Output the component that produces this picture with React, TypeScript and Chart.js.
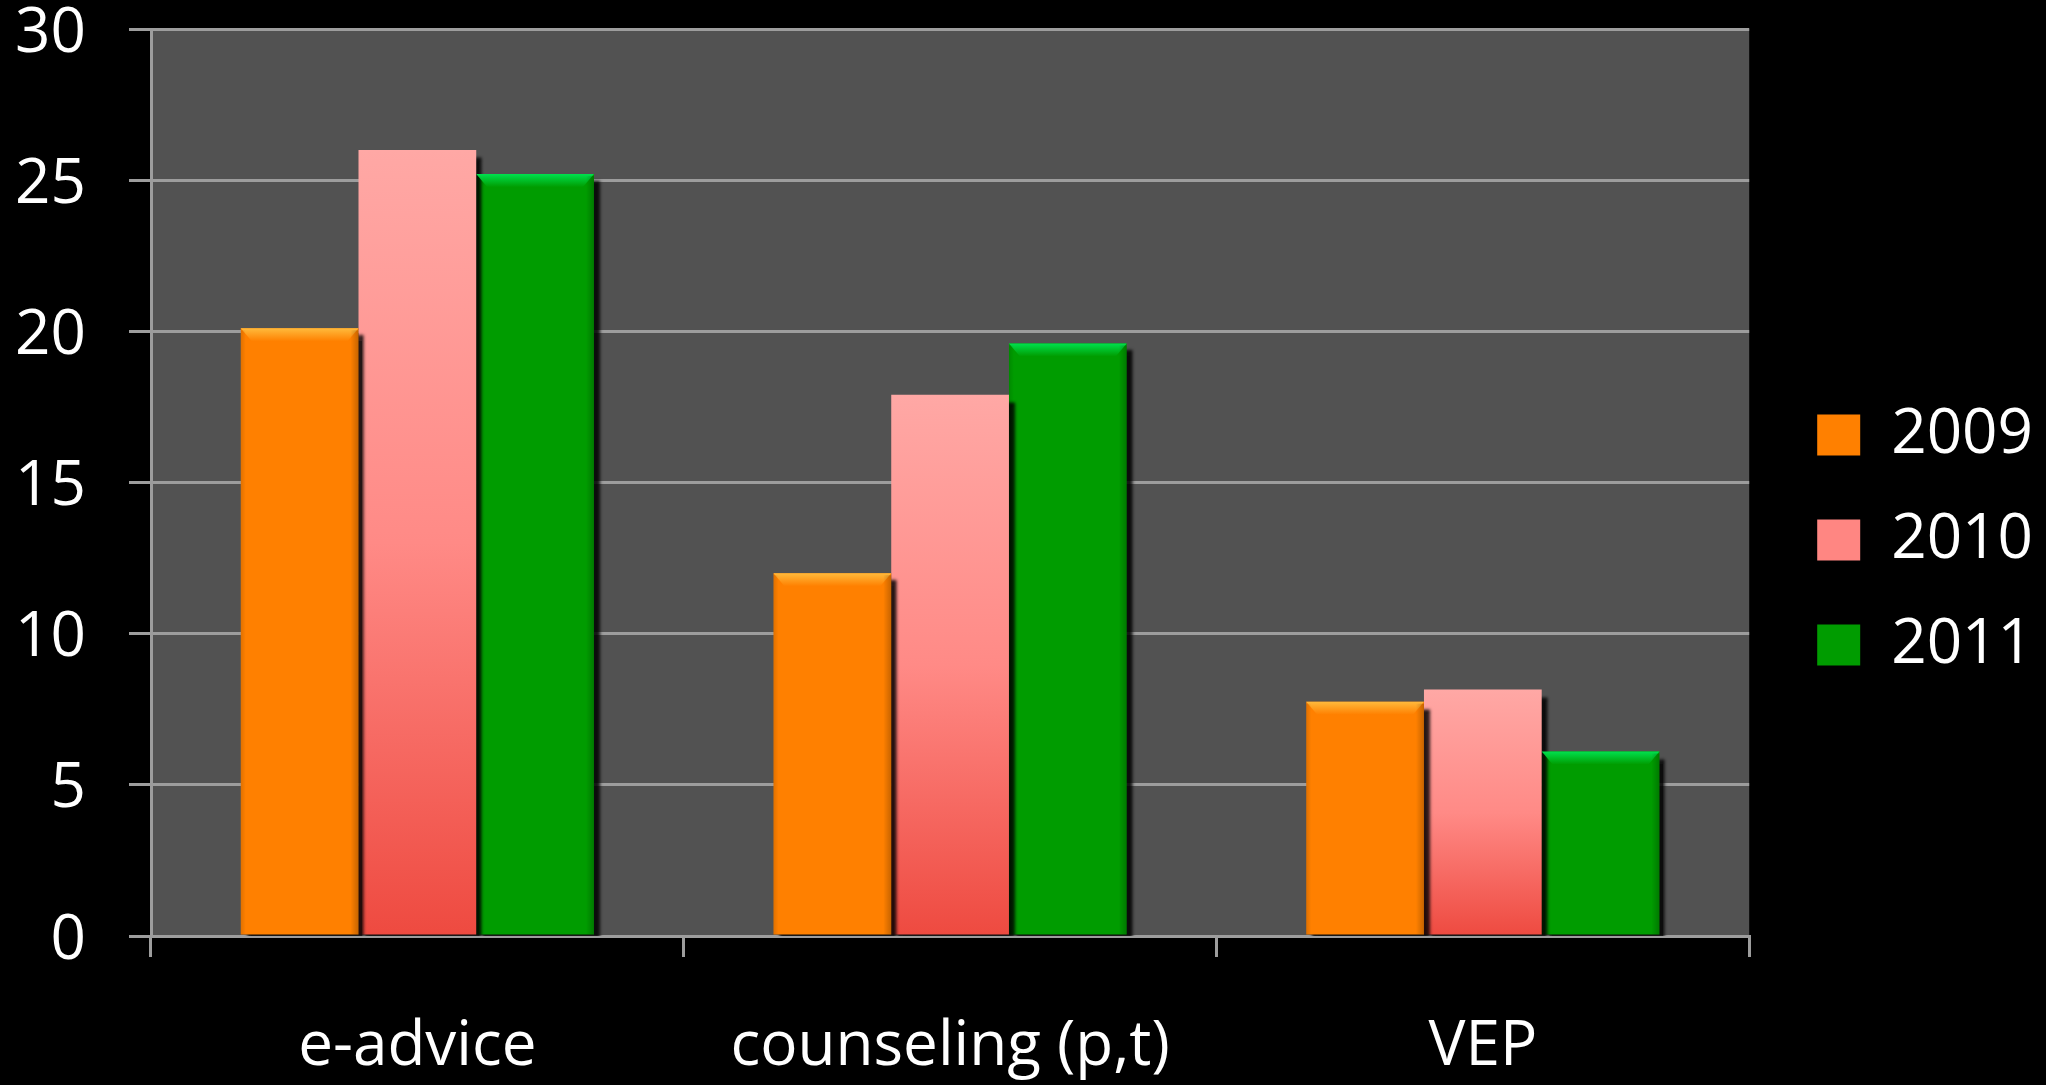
import { useEffect, useRef } from "react";
import { Chart, registerables } from "chart.js";

Chart.register(...registerables);

const categories = ["e-advice", "counseling (p,t)", "VEP"];
const seriesNames = ["2009", "2010", "2011"];
const values2009 = [20.1, 12.0, 7.75];
const values2010 = [26.0, 17.9, 8.15];
const values2011 = [25.2, 19.6, 6.1];
const yTicks = [0, 5, 10, 15, 20, 25, 30];

const FONT = "'Open Sans', 'Noto Sans', sans-serif";
const FONT_SIZE = 62;
const GRID = "#9d9d9d";
const ORANGE = "#FF8000";
const ORANGE_HI = "#FFBA3C";
const GREEN = "#009C00";
const GREEN_HI = "#00E04E";
const PINK_TOP = "#FFA8A5";
const PINK_BOTTOM = "#EE4A40";
const LEGEND_FILL = ["#FF8000", "#FF8682", "#009C00"];

const pinkGradient = (ctx: any) => {
  const chart = ctx.chart;
  if (!chart.chartArea || ctx.type !== "data") return "#FF8A85";
  const ys = chart.scales.y;
  const top = ys.getPixelForValue(ctx.raw as number);
  const bottom = ys.getPixelForValue(0);
  if (!isFinite(top) || !isFinite(bottom) || top === bottom) return "#FF8A85";
  const g = chart.ctx.createLinearGradient(0, top, 0, bottom);
  g.addColorStop(0, PINK_TOP);
  g.addColorStop(0.5, "#FF8A86");
  g.addColorStop(1, PINK_BOTTOM);
  return g;
};

const plotBg = {
  id: "plotBg",
  beforeDraw(chart: any) {
    const { ctx, chartArea } = chart;
    if (!chartArea) return;
    ctx.save();
    ctx.fillStyle = "#525252";
    ctx.fillRect(chartArea.left, chartArea.top, chartArea.right - chartArea.left, chartArea.bottom - chartArea.top);
    ctx.restore();
  },
};

const barEffects = {
  id: "barEffects",
  beforeDatasetsDraw(chart: any) {
    const ctx = chart.ctx;
    ctx.save();
    ctx.shadowColor = "rgba(0,0,0,0.85)";
    ctx.shadowOffsetX = 6;
    ctx.shadowOffsetY = 7;
    ctx.shadowBlur = 3;
  },
  afterDatasetsDraw(chart: any) {
    const ctx = chart.ctx;
    ctx.restore();
    const bevels: [number, string, string][] = [
      [0, ORANGE_HI, ORANGE],
      [2, GREEN_HI, GREEN],
    ];
    ctx.save();
    bevels.forEach(([di, hi, base]) => {
      const meta = chart.getDatasetMeta(di);
      meta.data.forEach((bar: any) => {
        const { x, y, width, base: b } = bar.getProps(["x", "y", "width", "base"], true);
        const left = x - width / 2;
        const right = x + width / 2;
        const h = 13;
        const inset = 11;
        const g = ctx.createLinearGradient(0, y, 0, y + h);
        g.addColorStop(0, hi);
        g.addColorStop(1, base);
        ctx.fillStyle = g;
        ctx.beginPath();
        ctx.moveTo(left, y);
        ctx.lineTo(right, y);
        ctx.lineTo(right - inset, y + h);
        ctx.lineTo(left + inset, y + h);
        ctx.closePath();
        ctx.fill();
        const sg = ctx.createLinearGradient(right - 8, 0, right, 0);
        sg.addColorStop(0, "rgba(0,0,0,0)");
        sg.addColorStop(1, "rgba(0,0,0,0.22)");
        ctx.fillStyle = sg;
        ctx.fillRect(right - 8, y + 2, 8, b - y - 2);
        const lg = ctx.createLinearGradient(left, 0, left + 5, 0);
        lg.addColorStop(0, "rgba(0,0,0,0.12)");
        lg.addColorStop(1, "rgba(0,0,0,0)");
        ctx.fillStyle = lg;
        ctx.fillRect(left, y + 2, 5, b - y - 2);
      });
    });
    ctx.restore();
  },
};

export default function App() {
  const ref = useRef<HTMLCanvasElement | null>(null);

  useEffect(() => {
    if (!ref.current) return;
    const chart = new Chart(ref.current, {
      type: "bar",
      data: {
        labels: categories,
        datasets: [
          { label: seriesNames[0], data: values2009, backgroundColor: ORANGE, borderWidth: 0 },
          { label: seriesNames[1], data: values2010, backgroundColor: pinkGradient as any, borderWidth: 0 },
          { label: seriesNames[2], data: values2011, backgroundColor: GREEN, borderWidth: 0 },
        ],
      },
      options: {
        responsive: false,
        animation: false,
        devicePixelRatio: 1,
        datasets: { bar: { categoryPercentage: 0.663, barPercentage: 1.0 } },
        layout: { padding: { left: 16, right: 3, top: 0, bottom: 5 } },
        plugins: {
          tooltip: { enabled: false },
          legend: {
            position: "right",
            align: "center",
            labels: {
              boxWidth: 43,
              boxHeight: 41,
              padding: 43,
              color: "#ffffff",
              font: { family: FONT, size: FONT_SIZE },
              generateLabels: (c: any) => {
                const items = Chart.defaults.plugins.legend.labels.generateLabels(c);
                return items.map((it: any, i: number) => ({
                  ...it,
                  fillStyle: LEGEND_FILL[i],
                  strokeStyle: LEGEND_FILL[i],
                  lineWidth: 0,
                }));
              },
            },
          },
        },
        scales: {
          x: {
            grid: {
              offset: true,
              drawOnChartArea: false,
              drawTicks: true,
              tickLength: 21,
              color: GRID,
              lineWidth: 3,
            },
            border: { display: true, color: GRID, width: 3 },
            ticks: {
              color: "#ffffff",
              font: { family: FONT, size: FONT_SIZE, lineHeight: 1.2 },
              padding: 53,
              maxRotation: 0,
            },
            afterFit: (s: any) => {
              s.height = 144;
              s.paddingLeft = 0;
              s.paddingRight = 0;
            },
          } as any,
          y: {
            min: yTicks[0],
            max: yTicks[yTicks.length - 1],
            ticks: {
              stepSize: yTicks[1] - yTicks[0],
              color: "#ffffff",
              font: { family: FONT, size: FONT_SIZE, lineHeight: 1.0 },
              padding: 43,
              labelOffset: 5,
            },
            grid: { color: GRID, lineWidth: 3, tickLength: 22, drawTicks: true },
            border: { display: true, color: GRID, width: 3 },
            afterFit: (s: any) => {
              s.width = 135;
              s.paddingTop = 29;
              s.paddingBottom = 29;
            },
          } as any,
          spacer: {
            type: "linear",
            position: "right",
            display: true,
            grid: { display: false },
            ticks: { display: false },
            border: { display: false },
            afterFit: (s: any) => {
              s.width = 25;
              s.paddingTop = 0;
              s.paddingBottom = 0;
            },
          } as any,
        },
      },
      plugins: [plotBg, barEffects],
    });
    return () => chart.destroy();
  }, []);

  return (
    <div style={{ position: "fixed", left: 0, top: 0, width: 2046, height: 1085, background: "#000" }}>
      <canvas ref={ref} width={2046} height={1085} style={{ display: "block", width: 2046, height: 1085 }} />
    </div>
  );
}
